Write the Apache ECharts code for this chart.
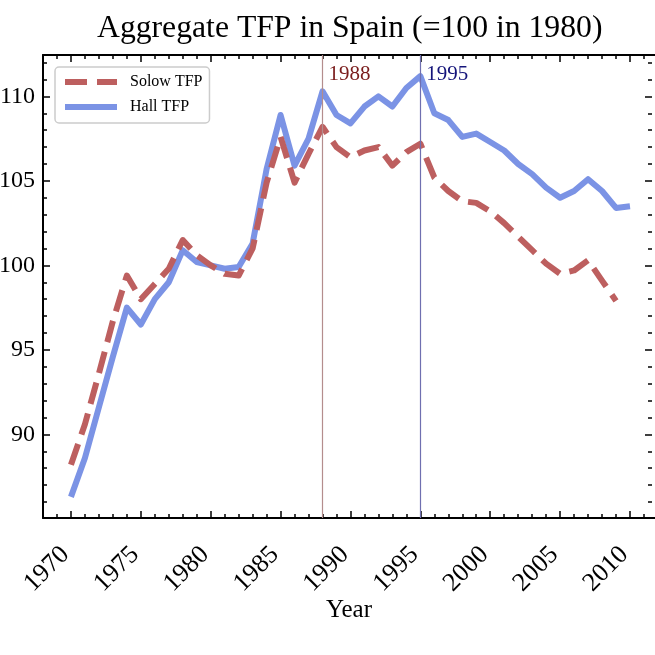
<!DOCTYPE html>
<html>
<head>
<meta charset="utf-8">
<script src="https://cdn.jsdelivr.net/npm/echarts@6/dist/echarts.min.js"></script>
<style>html,body{margin:0;padding:0;background:#fff}#c{width:655px;height:655px}</style>
</head>
<body>
<div id="c"></div>
<script>
// ---- data ----
const years = [1970,1971,1972,1973,1974,1975,1976,1977,1978,1979,
               1980,1981,1982,1983,1984,1985,1986,1987,1988,1989,
               1990,1991,1992,1993,1994,1995,1996,1997,1998,1999,
               2000,2001,2002,2003,2004,2005,2006,2007,2008,2009,2010];
const solowTFP = [88.2,90.6,93.6,96.7,99.4,98.0,98.9,99.8,101.5,100.6,
                  100.0,99.5,99.4,101.0,104.9,107.6,104.9,106.6,108.2,107.0,
                  106.4,106.8,107.0,105.9,106.7,107.2,105.2,104.4,103.8,103.7,
                  103.2,102.5,101.7,100.9,100.1,99.5,99.7,100.3,99.1,97.9];
const hallTFP = [86.3,88.6,91.6,94.6,97.5,96.5,98.0,99.0,100.9,100.2,
                 100.0,99.8,99.9,101.3,105.7,108.9,105.9,107.5,110.3,108.9,
                 108.4,109.4,110.0,109.4,110.5,111.2,109.0,108.6,107.6,107.8,
                 107.3,106.8,106.0,105.4,104.6,104.0,104.4,105.1,104.4,103.4,103.5];
const seriesNames = ['Solow TFP','Hall TFP'];
const eventYears = [1988, 1995];
const eventLabels = ['1988','1995'];
const xMajorTicks = [1970,1975,1980,1985,1990,1995,2000,2005,2010];
const xMinorTicks = [1968,1969,1970,1971,1972,1973,1974,1975,1976,1977,1978,1979,1980,1981,1982,1983,1984,1985,1986,1987,1988,1989,1990,1991,1992,1993,1994,1995,1996,1997,1998,1999,2000,2001,2002,2003,2004,2005,2006,2007,2008,2009,2010,2011];
const yMajorTicks = [90,95,100,105,110];
const yMinorTicks = [86,87,88,89,90,91,92,93,94,95,96,97,98,99,100,101,102,103,104,105,106,107,108,109,110,111,112];
const titleText = 'Aggregate TFP in Spain (=100 in 1980)';
const xName = 'Year';

// ---- chart ----
const FONT = '"Liberation Serif","Times New Roman",serif';
// x range 1968..2012; the picture is cut at the right, so the visible edge is ~2011.8
const X_MIN = 1968, X_MAX = 2011.79, Y_MIN = 85.05, Y_MAX = 112.45;
const eventLineColors = ['#b48d8d','#6f6fb0'];
const eventTextColors = ['#7a1c1c','#14147a'];

const chart = echarts.init(document.getElementById('c'), null, {renderer:'canvas'});

function xAx(pos, ticks, len, showLine, showLabel, extra) {
  return Object.assign({
    type:'value', min:X_MIN, max:X_MAX, position:pos,
    axisLine:{show:showLine, onZero:false, lineStyle:{color:'#000', width:2}},
    axisTick:{show:true, inside:true, length:len, customValues:ticks, lineStyle:{color:'#000', width:1.5}},
    axisLabel:{show:showLabel},
    splitLine:{show:false}
  }, extra || {});
}
function yAx(pos, ticks, len, showLine, showLabel, extra) {
  return Object.assign({
    type:'value', min:Y_MIN, max:Y_MAX, position:pos,
    axisLine:{show:showLine, onZero:false, lineStyle:{color:'#000', width:2}},
    axisTick:{show:true, inside:true, length:len, customValues:ticks, lineStyle:{color:'#000', width:1.5}},
    axisLabel:{show:showLabel},
    splitLine:{show:false}
  }, extra || {});
}

const xMain = xAx('bottom', xMajorTicks, 7, true, true, {
  axisLabel:{show:true, customValues:xMajorTicks, rotate:45, margin:27,
             padding:[0,8,0,0],
             fontFamily:FONT, fontSize:26, color:'#000', formatter:v=>String(v)},
  name:xName, nameLocation:'middle', nameGap:80, nameMoveOverlap:false,
  nameTextStyle:{fontFamily:FONT, fontSize:25, color:'#000'}
});
const yMain = yAx('left', yMajorTicks, 7, true, true, {
  axisLabel:{show:true, customValues:yMajorTicks, margin:8,
             fontFamily:FONT, fontSize:24, color:'#000', formatter:v=>String(v)}
});

const option = {
  animation:false,
  backgroundColor:'#fff',
  title:{text:titleText, left:92, top:8,
         textStyle:{fontFamily:FONT, fontSize:31.7, fontWeight:'normal', color:'#000'}},
  grid:{left:43, top:55, right:0, bottom:137, containLabel:false, outerBoundsMode:'none'},
  xAxis:[
    xMain,
    xAx('bottom', xMinorTicks, 4, false, false),
    xAx('top', xMajorTicks, 7, true, false),
    xAx('top', xMinorTicks, 4, false, false)
  ],
  yAxis:[
    yMain,
    yAx('left', yMinorTicks, 4, false, false),
    yAx('right', yMajorTicks, 7, false, false, {offset:-3}),
    yAx('right', yMinorTicks, 4, false, false, {offset:-3})
  ],
  legend:{
    data:seriesNames, left:55, top:67, orient:'vertical',
    itemWidth:52, itemHeight:14, itemGap:9,
    padding:[7,7,8,7],
    backgroundColor:'rgba(255,255,255,0.8)',
    borderColor:'#cccccc', borderWidth:1.5, borderRadius:4,
    itemStyle:{opacity:0},
    lineStyle:{width:6},
    textStyle:{fontFamily:FONT, fontSize:16, color:'#000', padding:[0,0,0,8]}
  },
  series:[
    {
      name:seriesNames[0], type:'line', xAxisIndex:0, yAxisIndex:0,
      data:years.slice(0, solowTFP.length).map((y,i)=>[y, solowTFP[i]]),
      showSymbol:false, symbol:'none',
      lineStyle:{color:'#bd5f5f', width:6, type:[22,10], cap:'butt', join:'round'},
      itemStyle:{color:'#bd5f5f'},
      z:3,
      markLine:{
        silent:true, symbol:['none','none'], animation:false,
        label:{show:false},
        data: eventYears.map((yr,i)=>({xAxis:yr, lineStyle:{color:eventLineColors[i], width:1.2, type:'solid'}}))
      }
    },
    {
      name:seriesNames[1], type:'line', xAxisIndex:0, yAxisIndex:0,
      data:years.map((y,i)=>[y, hallTFP[i]]),
      showSymbol:false, symbol:'none',
      lineStyle:{color:'#7b93e5', width:6, type:'solid', cap:'butt', join:'round'},
      itemStyle:{color:'#7b93e5'},
      z:2
    }
  ]
};
chart.setOption(option);

// event labels, positioned through the axis scale
const topPx = chart.convertToPixel({yAxisIndex:0}, Y_MAX);
chart.setOption({
  graphic: eventYears.map((yr,i)=>({
    type:'text',
    x: chart.convertToPixel({xAxisIndex:0}, yr) + 6,
    y: topPx + 19,
    style:{text:eventLabels[i], fill:eventTextColors[i], font:'21px ' + FONT,
           textAlign:'left', textVerticalAlign:'middle'},
    z:10
  }))
});
</script>
</body>
</html>
